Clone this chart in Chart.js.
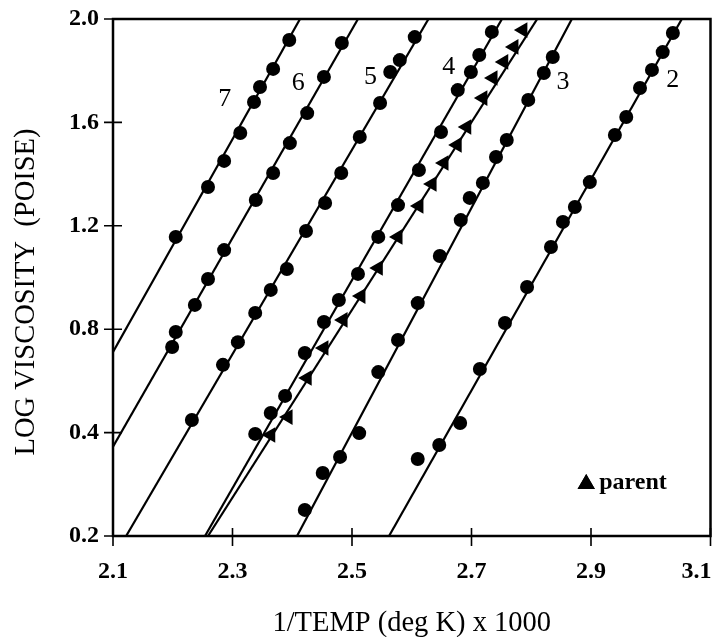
<!DOCTYPE html>
<html>
<head>
<meta charset="utf-8">
<script src="https://cdn.jsdelivr.net/npm/chart.js@4.4.1/dist/chart.umd.min.js"></script>
<style>
  html, body { margin: 0; padding: 0; background: #fff; }
  #wrap { width: 722px; height: 637px; }
</style>
</head>
<body>
<div id="wrap"><canvas id="c" width="722" height="637"></canvas></div>
<script>
// Axis ticks
const xTickValues = [2.1, 2.3, 2.5, 2.7, 2.9, 3.1];
const xTickLabels = ['2.1', '2.3', '2.5', '2.7', '2.9', '3.1'];
const yTickValues = [0, 0.4, 0.8, 1.2, 1.6, 2.0];
const yTickLabels = ['0.2', '0.4', '0.8', '1.2', '1.6', '2.0'];

// Measured points, sample 7
const x7 = [2.205, 2.259, 2.286, 2.313, 2.336, 2.346, 2.368, 2.395];
const y7 = [1.157, 1.350, 1.451, 1.559, 1.679, 1.737, 1.807, 1.919];
// sample 6
const x6 = [2.199, 2.205, 2.237, 2.259, 2.286, 2.339, 2.368, 2.396, 2.425, 2.453, 2.483];
const y6 = [0.731, 0.789, 0.894, 0.994, 1.106, 1.300, 1.404, 1.520, 1.636, 1.776, 1.907];
// sample 5
const x5 = [2.232, 2.284, 2.309, 2.338, 2.364, 2.391, 2.423, 2.455, 2.482, 2.513, 2.547, 2.564, 2.580, 2.605];
const y5 = [0.449, 0.662, 0.750, 0.863, 0.952, 1.033, 1.180, 1.288, 1.404, 1.544, 1.675, 1.795, 1.841, 1.930];
// sample 4
const x4 = [2.338, 2.364, 2.388, 2.421, 2.453, 2.478, 2.510, 2.544, 2.577, 2.612, 2.649, 2.677, 2.699, 2.713, 2.734];
const y4 = [0.395, 0.476, 0.542, 0.708, 0.828, 0.913, 1.014, 1.157, 1.280, 1.416, 1.563, 1.725, 1.795, 1.861, 1.950];
// parent polymer
const xParent = [2.364, 2.393, 2.425, 2.453, 2.485, 2.515, 2.544, 2.577, 2.612, 2.634, 2.654, 2.676, 2.692, 2.719, 2.736, 2.754, 2.771, 2.786];
const yParent = [0.391, 0.460, 0.611, 0.727, 0.836, 0.928, 1.037, 1.157, 1.277, 1.362, 1.443, 1.513, 1.582, 1.694, 1.772, 1.834, 1.892, 1.957];
// sample 3
const x3 = [2.421, 2.451, 2.480, 2.512, 2.544, 2.577, 2.610, 2.647, 2.682, 2.697, 2.719, 2.741, 2.759, 2.795, 2.821, 2.836];
const y3 = [0.101, 0.244, 0.306, 0.398, 0.634, 0.758, 0.901, 1.083, 1.222, 1.308, 1.366, 1.466, 1.532, 1.687, 1.791, 1.853];
// sample 2
const x2 = [2.610, 2.646, 2.681, 2.714, 2.756, 2.793, 2.833, 2.853, 2.873, 2.898, 2.940, 2.959, 2.982, 3.002, 3.020, 3.037];
const y2 = [0.298, 0.352, 0.437, 0.646, 0.824, 0.963, 1.118, 1.215, 1.273, 1.369, 1.551, 1.621, 1.733, 1.803, 1.872, 1.946];

// Fitted straight lines (end points on the frame)
const fit7x = [2.100, 2.413], fit7y = [0.712, 2.0];
const fit6x = [2.100, 2.510], fit6y = [0.345, 2.0];
const fit5x = [2.122, 2.628], fit5y = [0.0, 2.0];
const fit4x = [2.254, 2.751], fit4y = [0.0, 2.0];
const fitPx = [2.259, 2.810], fitPy = [0.0, 2.0];
const fit3x = [2.408, 2.868], fit3y = [0.0, 2.0];
const fit2x = [2.562, 3.052], fit2y = [0.0, 2.0];

// Curve numbers, anchored in data units
const curveNames = ['7', '6', '5', '4', '3', '2'];
const curveNameX = [2.287, 2.410, 2.531, 2.662, 2.853, 3.037];
const curveNameY = [1.690, 1.750, 1.776, 1.813, 1.756, 1.764];

const toPts = (xs, ys) => xs.map((v, i) => ({ x: v, y: ys[i] }));

const SERIF = '"Liberation Serif", "Times New Roman", serif';

function dots(label, xs, ys) {
  return {
    label, data: toPts(xs, ys), showLine: false,
    pointStyle: 'circle', pointRadius: 7,
    pointBackgroundColor: '#000', pointBorderColor: '#000', pointBorderWidth: 0,
    order: 1
  };
}
function fitLine(label, xs, ys) {
  return {
    label, data: toPts(xs, ys), showLine: true, pointRadius: 0,
    borderColor: '#000', borderWidth: 2.2, fill: false, order: 2
  };
}

const datasets = [
  fitLine('fit 7', fit7x, fit7y), dots('7', x7, y7),
  fitLine('fit 6', fit6x, fit6y), dots('6', x6, y6),
  fitLine('fit 5', fit5x, fit5y), dots('5', x5, y5),
  fitLine('fit 4', fit4x, fit4y), dots('4', x4, y4),
  fitLine('fit parent', fitPx, fitPy),
  {
    label: 'parent', data: toPts(xParent, yParent), showLine: false,
    pointStyle: 'triangle', pointRadius: 9, pointRotation: -90,
    pointBackgroundColor: '#000', pointBorderColor: '#000', pointBorderWidth: 0, order: 1
  },
  fitLine('fit 3', fit3x, fit3y), dots('3', x3, y3),
  fitLine('fit 2', fit2x, fit2y), dots('2', x2, y2)
];

// Frame, crossing tick marks, x tick labels, titles, curve numbers and key
const decorations = {
  id: 'decorations',
  afterDatasetsDraw(chart) {
    const { ctx, chartArea: a, scales: { x, y } } = chart;
    ctx.save();
    ctx.strokeStyle = '#000';
    ctx.fillStyle = '#000';

    ctx.lineWidth = 2.5;
    ctx.strokeRect(a.left, a.top, a.right - a.left, a.bottom - a.top);

    ctx.lineWidth = 1.6;
    ctx.beginPath();
    xTickValues.forEach(v => {
      const px = x.getPixelForValue(v);
      ctx.moveTo(px, a.bottom - 8);
      ctx.lineTo(px, a.bottom + 10);
    });
    yTickValues.forEach(v => {
      const py = y.getPixelForValue(v);
      ctx.moveTo(a.left - 9, py);
      ctx.lineTo(a.left + 9, py);
    });
    ctx.stroke();

    ctx.font = 'bold 24px ' + SERIF;
    ctx.textBaseline = 'alphabetic';
    xTickValues.forEach((v, i) => {
      const last = i === xTickValues.length - 1;
      ctx.textAlign = last ? 'right' : 'center';
      ctx.fillText(xTickLabels[i], last ? a.right + 1 : x.getPixelForValue(v), a.bottom + 42);
    });

    // axis titles
    ctx.font = '28.5px ' + SERIF;
    ctx.textAlign = 'center';
    ctx.textBaseline = 'middle';
    ctx.fillText('1/TEMP (deg K) x 1000', (a.left + a.right) / 2, 624);
    ctx.save();
    ctx.translate(27, 292);
    ctx.rotate(-Math.PI / 2);
    ctx.fillText('LOG VISCOSITY  (POISE)', 0, 0);
    ctx.restore();

    // curve numbers
    ctx.font = '26px ' + SERIF;
    curveNames.forEach((t, i) => {
      ctx.fillText(t, x.getPixelForValue(curveNameX[i]), y.getPixelForValue(curveNameY[i]));
    });

    // key
    const kx = x.getPixelForValue(2.892), ky = y.getPixelForValue(0.205);
    Chart.helpers.drawPoint(ctx, { pointStyle: 'triangle', radius: 10, rotation: 0, borderWidth: 0 }, kx, ky + 1);
    ctx.fill();
    ctx.font = 'bold 24px ' + SERIF;
    ctx.textAlign = 'left';
    ctx.fillText('parent', kx + 13, ky);
    ctx.restore();
  }
};

new Chart(document.getElementById('c'), {
  type: 'scatter',
  data: { datasets },
  options: {
    responsive: false,
    animation: false,
    events: [],
    layout: { padding: { left: 0, top: 19, right: 11.5, bottom: 0 } },
    plugins: { legend: { display: false }, tooltip: { enabled: false } },
    elements: { line: { tension: 0 } },
    scales: {
      x: {
        type: 'linear', min: 2.1, max: 3.1,
        afterBuildTicks: s => { s.ticks = xTickValues.map(v => ({ value: v })); },
        afterFit: s => { s.height = 101; s.paddingLeft = 0; s.paddingRight = 0; },
        grid: { display: false, drawTicks: false },
        border: { display: false },
        ticks: { display: false }
      },
      y: {
        type: 'linear', min: 0, max: 2.0,
        afterBuildTicks: s => { s.ticks = yTickValues.map(v => ({ value: v })); },
        afterFit: s => { s.width = 113; s.paddingTop = 0; s.paddingBottom = 0; },
        grid: { display: false, drawTicks: false },
        border: { display: false },
        ticks: {
          padding: 14, color: '#000',
          font: { family: SERIF, size: 24, weight: 'bold' },
          callback: (v, i) => yTickLabels[i]
        }
      }
    }
  },
  plugins: [decorations]
});
</script>
</body>
</html>
